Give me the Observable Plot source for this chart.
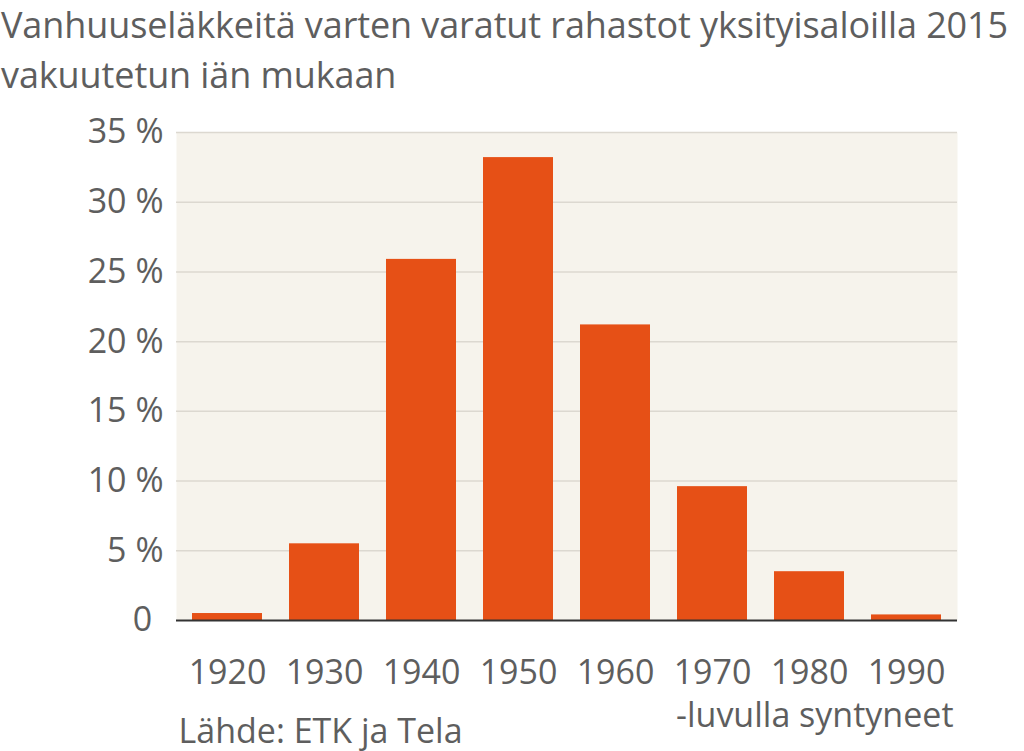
<!DOCTYPE html>
<html>
<head>
<meta charset="utf-8">
<script src="https://cdn.jsdelivr.net/npm/d3@7"></script>
<script src="https://cdn.jsdelivr.net/npm/@observablehq/plot@0.6"></script>
<style>
  html, body { margin: 0; padding: 0; background: #ffffff; }
  body { width: 1024px; height: 751px; overflow: hidden; font-family: "Open Sans", sans-serif; }
  #titlebox { height: 102px; overflow: visible; }
  #title { margin: 0; padding: 0 0 0 1px; font-size: 36px; line-height: 50px; color: #5e5e5e; white-space: nowrap; letter-spacing: -0.1px; }
  svg text { fill: #5e5e5e; }
</style>
</head>
<body>
<div id="titlebox"><div id="title">Vanhuuseläkkeitä varten varatut rahastot yksityisaloilla 2015<br>vakuutetun iän mukaan</div></div>
<div id="chart"></div>
<script>
const decades = ["1920", "1930", "1940", "1950", "1960", "1970", "1980", "1990"];
const shares = [0.5, 5.5, 25.9, 33.2, 21.2, 9.6, 3.5, 0.4];
const yTicks = [0, 5, 10, 15, 20, 25, 30, 35];
const axisNote = "-luvulla syntyneet";
const source = "Lähde: ETK ja Tela";

const data = decades.map((d, i) => ({decade: d, value: shares[i]}));

const chart = Plot.plot({
  width: 1024,
  height: 649,
  marginTop: 30,
  marginBottom: 131,
  marginLeft: 176,
  marginRight: 67,
  style: {fontFamily: "Open Sans, sans-serif", fontSize: "34px", color: "#5e5e5e", background: "transparent"},
  x: {domain: decades, paddingInner: 0.28, paddingOuter: 0.14, label: null},
  y: {domain: [0, 35], label: null},
  marks: [
    Plot.frame({fill: "#f6f3ec", stroke: null}),
    Plot.gridY(yTicks.filter(d => d > 0), {stroke: "#dcd8d0", strokeOpacity: 1, strokeWidth: 1.5}),
    Plot.barY(data, {x: "decade", y: "value", fill: "#e65016"}),
    Plot.ruleY([0], {stroke: "#333333", strokeWidth: 2}),
    Plot.axisY(yTicks, {tickSize: 0, tickPadding: 13, fontSize: 34, label: null,
      tickFormat: d => d === 0 ? "0\u2004" : d + " %"}),
    Plot.axisX({tickSize: 0, tickPadding: 39, fontSize: 34, label: null}),
    Plot.text([axisNote], {frameAnchor: "bottom-right", textAnchor: "end", lineAnchor: "bottom", dx: -4, dy: 106, fontSize: 34, fill: "#5e5e5e"}),
    Plot.text([source], {frameAnchor: "bottom-left", textAnchor: "start", lineAnchor: "bottom", dx: 2, dy: 122, fontSize: 34, fill: "#5e5e5e"})
  ]
});
document.getElementById("chart").appendChild(chart);
</script>
</body>
</html>
